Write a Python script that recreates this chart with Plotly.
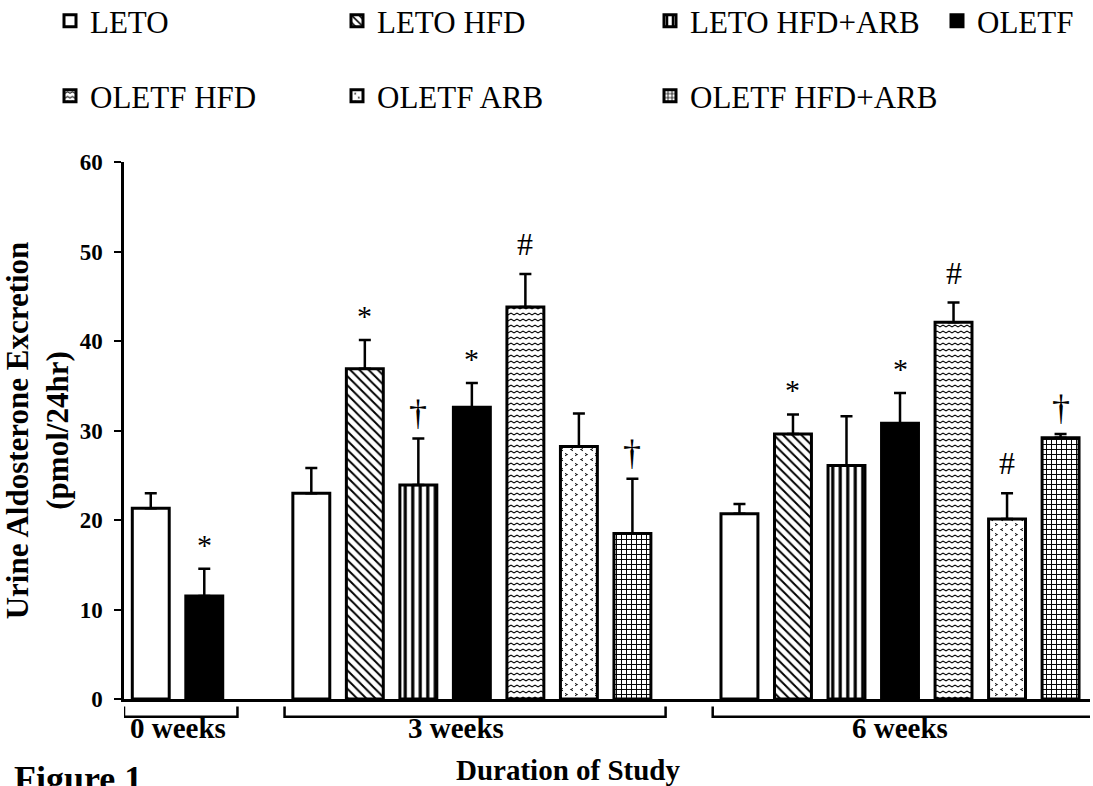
import plotly.graph_objects as go

# ---------------- data ----------------
groups = ["0 weeks", "3 weeks", "6 weeks"]
series = ["LETO", "LETO HFD", "LETO HFD+ARB", "OLETF", "OLETF HFD", "OLETF ARB", "OLETF HFD+ARB"]

leto = [21.3, 23.0, 20.7]
leto_hfd = [None, 36.9, 29.6]
leto_hfd_arb = [None, 23.9, 26.1]
oletf = [11.5, 32.6, 30.8]
oletf_hfd = [None, 43.8, 42.1]
oletf_arb = [None, 28.2, 20.1]
oletf_hfd_arb = [None, 18.5, 29.2]

err_leto = [1.7, 2.8, 1.1]
err_leto_hfd = [None, 3.2, 2.2]
err_leto_hfd_arb = [None, 5.2, 5.5]
err_oletf = [3.05, 2.7, 3.4]
err_oletf_hfd = [None, 3.7, 2.2]
err_oletf_arb = [None, 3.7, 2.9]
err_oletf_hfd_arb = [None, 6.1, 0.4]

sig_leto = ["", "", ""]
sig_leto_hfd = [None, "*", "*"]
sig_leto_hfd_arb = [None, "†", ""]
sig_oletf = ["*", "*", "*"]
sig_oletf_hfd = [None, "#", "#"]
sig_oletf_arb = [None, "", "#"]
sig_oletf_hfd_arb = [None, "†", "†"]

y_title = "Urine Aldosterone Excretion<br>(pmol/24hr)"
x_title = "Duration of Study"
fig_label = "Figure 1"
y_ticks = [0, 10, 20, 30, 40, 50, 60]

values = [leto, leto_hfd, leto_hfd_arb, oletf, oletf_hfd, oletf_arb, oletf_hfd_arb]
errors = [err_leto, err_leto_hfd, err_leto_hfd_arb, err_oletf, err_oletf_hfd, err_oletf_arb, err_oletf_hfd_arb]
sigs = [sig_leto, sig_leto_hfd, sig_leto_hfd_arb, sig_oletf, sig_oletf_hfd, sig_oletf_arb, sig_oletf_hfd_arb]

# ---------------- positions (slot layout) ----------------
pos = {}  # (series index, group index) -> x slot
group_span = []
start = 0
for g in range(len(groups)):
    present = [s for s in range(len(series)) if values[s][g] is not None]
    for k, s in enumerate(present):
        pos[(s, g)] = start + k
    group_span.append((start, start + len(present) - 1))
    start = start + len(present) + 1

# ---------------- styles ----------------
BLACK = "black"
SERIF = "Liberation Serif, Times New Roman, serif"
W, H = 1093, 786

pattern_ok = "path" in go.bar.marker.Pattern()._valid_props

zigzag = "M0,2.2 L3,0.4 L6,2.2 L6,3.6 L3,1.8 L0,3.6 Z"
chevrons = ("M1,1 L4.2,2.6 L1,4.2 L1,3.3 L2.6,2.6 L1,1.9 Z "
            "M9,6 L5.8,7.6 L9,9.2 L9,8.3 L7.4,7.6 L9,6.9 Z")

def pat(shape=None, size=8, solidity=0.3, path=None):
    d = dict(fgcolor=BLACK, bgcolor="white", fillmode="replace", size=size, solidity=solidity)
    if path is not None and pattern_ok:
        d["path"] = path
    elif shape is not None:
        d["shape"] = shape
    return d

styles = [
    dict(color="white", pattern=None),
    dict(color="white", pattern=pat("\\", 6.5, 0.3)),
    dict(color="white", pattern=pat("|", 7.5, 0.42)),
    dict(color=BLACK, pattern=None),
    dict(color="white", pattern=pat("-", 6, 0.3, zigzag)),
    dict(color="white", pattern=pat(".", 10, 0.15, chevrons)),
    dict(color="white", pattern=pat("+", 5, 0.35)),
]
# one single-entry legend per item, laid out as a 4 + 3 grid
legend_cols = [50, 337, 650, 937]
legend_rows = [21, 96]
legend_cell = [(0, 0), (0, 1), (0, 2), (0, 3), (1, 0), (1, 1), (1, 2)]

fig = go.Figure()
legend_layouts = {}
for s, name in enumerate(series):
    xs, ys, es = [], [], []
    for g in range(len(groups)):
        if values[s][g] is not None:
            xs.append(pos[(s, g)])
            ys.append(values[s][g])
            es.append(errors[s][g])
    marker = dict(color=styles[s]["color"], line=dict(color=BLACK, width=3))
    if styles[s]["pattern"] is not None:
        marker["pattern"] = styles[s]["pattern"]
    lg = "legend" if s == 0 else f"legend{s + 1}"
    r, c = legend_cell[s]
    legend_layouts[lg] = dict(
        orientation="h", xref="container", yref="container",
        x=legend_cols[c] / W, y=1 - legend_rows[r] / H, xanchor="left", yanchor="middle",
        font=dict(family=SERIF, size=31, color=BLACK), bgcolor="rgba(0,0,0,0)",
    )
    fig.add_trace(go.Bar(
        x=xs, y=ys, name=name, width=0.69, marker=marker,
        error_y=dict(type="data", array=es, arrayminus=[0] * len(es), symmetric=False,
                     color=BLACK, thickness=2.5, width=6),
        legend=lg,
    ))

# significance markers
sig_font = {"*": 30, "#": 32, "†": 36}
sig_shift = {"*": 6, "#": 10, "†": 4}
for s in range(len(series)):
    for g in range(len(groups)):
        mark = sigs[s][g]
        if mark:
            fig.add_annotation(
                x=pos[(s, g)], y=values[s][g] + errors[s][g], text=mark, showarrow=False,
                yanchor="bottom", yshift=sig_shift[mark],
                font=dict(family=SERIF, size=sig_font[mark], color=BLACK),
            )

# group brackets and labels
for g, name in enumerate(groups):
    a, b = group_span[g]
    left, right = a - 0.5, b + 0.62
    fig.add_shape(
        type="path", xref="x", yref="paper",
        path=f"M{left},-0.014 L{left},-0.033 L{right},-0.033 L{right},-0.014",
        line=dict(color=BLACK, width=2.5),
    )
    fig.add_annotation(
        x=(a + b) / 2 + (0.0 if g != 1 else -0.3), y=-0.054, xref="x", yref="paper",
        text=name, showarrow=False, yanchor="middle",
        font=dict(family=SERIF, size=29, color=BLACK, weight="bold"),
    )

fig.add_annotation(
    x=0.46, y=-0.132, xref="paper", yref="paper", text=x_title, showarrow=False,
    yanchor="middle", font=dict(family=SERIF, size=29, color=BLACK, weight="bold"),
)
fig.add_annotation(
    x=-0.116, y=-0.108, xref="paper", yref="paper", text=fig_label, showarrow=False,
    xanchor="left", yanchor="top", font=dict(family=SERIF, size=36, color=BLACK, weight="bold"),
)

fig.update_layout(
    width=W, height=H,
    margin=dict(l=124, r=3, t=162, b=87),
    paper_bgcolor="white", plot_bgcolor="white",
    barmode="overlay", showlegend=True,
    font=dict(family=SERIF, color=BLACK),
    **legend_layouts,
)
fig.update_xaxes(
    range=[-0.5, 17.55], showline=True, linecolor=BLACK, linewidth=2.5,
    showticklabels=False, ticks="", showgrid=False, zeroline=False,
)
fig.update_yaxes(
    range=[0, 60], tickvals=y_ticks, showline=True, linecolor=BLACK, linewidth=2.5,
    ticks="outside", ticklen=7, tickwidth=2, tickcolor=BLACK, showgrid=False, zeroline=False,
    ticklabelstandoff=7,
    tickfont=dict(family=SERIF, size=23, color=BLACK, weight="bold"),
    title=dict(text=y_title, standoff=2,
               font=dict(family=SERIF, size=31, color=BLACK, weight="bold")),
)

fig.write_html("out.html")
